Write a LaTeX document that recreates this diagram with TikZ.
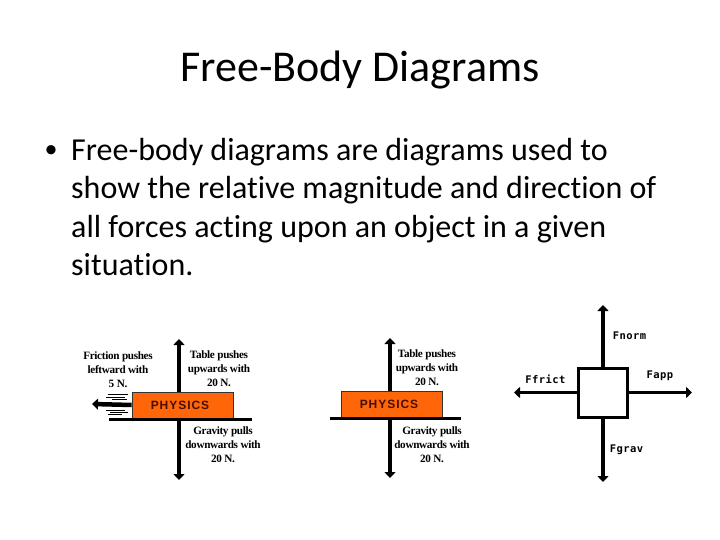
\documentclass[tikz,border=0pt]{standalone}
\usepackage{fontspec}
\usetikzlibrary{arrows.meta}
\setmainfont[RawFeature={-liga}]{Carlito}
\newfontfamily\labelfont[LetterSpace=-3]{Liberation Serif}
\newfontfamily\physfont[LetterSpace=8]{Liberation Sans}
\newfontfamily\forcefont[LetterSpace=4]{DejaVu Sans Mono}
\definecolor{bookfill}{RGB}{255,102,10}
\definecolor{booktext}{RGB}{70,15,0}

\begin{document}
\begin{tikzpicture}[x=1pt, y=-1pt]
    \tikzstyle{title} = [inner sep=0pt, font=\fontsize{44}{48}\selectfont]
    \tikzstyle{body} = [inner sep=0pt, align=left, anchor=north west, font=\fontsize{32}{38.5}\selectfont]
    \tikzstyle{note} = [inner sep=0pt, align=center, font=\labelfont\bfseries\fontsize{11.2}{14}\selectfont]
    \tikzstyle{force} = [inner sep=0pt, font=\forcefont\bfseries\fontsize{10.5}{12}\selectfont]
    \tikzstyle{book} = [draw=black!80, line width=0.7pt, fill=bookfill, minimum width=101pt, minimum height=26pt, inner sep=0pt, font=\physfont\bfseries\fontsize{12}{14}\selectfont, text=booktext]
    \tikzstyle{crate} = [draw=black, line width=3pt, fill=white, minimum size=49pt, inner sep=0pt]
    \tikzstyle{pull} = [line width=3.5pt, -{Triangle[length=6pt, width=11pt]}]
    \tikzstyle{floor} = [line width=3pt]
    \useasboundingbox [fill=white] (0,0) rectangle (720,540);

    \node (head) [title] at (360,70) {Free-Body Diagrams};
    \node (dot) [inner sep=0pt, font=\fontsize{26}{30}\selectfont] at (51,152) {•};
    \node (text) [body] at (71,138) {Free-body diagrams are diagrams used to\\show the relative magnitude and direction of\\all forces acting upon an object in a given\\situation.};

    % left picture
    \coordinate (u1) at (179,339);
    \coordinate (d1) at (179,480);
    \coordinate (l1) at (92,404);
    \coordinate (fa1) at (109,419);
    \coordinate (fb1) at (252,419);
    \draw [pull] (179,418) -- (u1);
    \draw [pull] (179,418) -- (d1);
    \node (b1) [book] at (182.5,405) {\hspace{-5pt}PHYSICS};
    \draw [floor] (fa1) -- (fb1);
    \draw [line width=4.5pt, -{Triangle[length=6pt, width=11pt]}] (b1.west) -- (l1);
    \foreach \ya/\xa/\xb in {394/108/128, 397/106/125, 399/112/127, 410/106/125, 412/110/128, 414/108/122}
        \draw [line width=0.7pt] (\xa,\ya) -- (\xb,\ya);
    \node (n1) [note] at (118,370) {Friction pushes\\leftward with\\5 N.};
    \node (n2) [note] at (219,369) {Table pushes\\upwards with\\20 N.};
    \node (n3) [note] at (223,445) {Gravity pulls\\downwards with\\20 N.};

    % middle picture
    \coordinate (u2) at (390,338);
    \coordinate (d2) at (390,478);
    \coordinate (fa2) at (330,418);
    \coordinate (fb2) at (461,418);
    \draw [pull] (390,417) -- (u2);
    \draw [pull] (390,417) -- (d2);
    \node (b2) [book] at (391.5,404) {\hspace{-5pt}PHYSICS};
    \draw [floor] (fa2) -- (fb2);
    \node (n4) [note] at (427,368) {Table pushes\\upwards with\\20 N.};
    \node (n5) [note] at (432,445) {Gravity pulls\\downwards with\\20 N.};

    % right picture
    \node (c1) [crate] at (603,392.5) {};
    \coordinate (u3) at (603,305);
    \coordinate (d3) at (603,482);
    \coordinate (l3) at (514,392.5);
    \coordinate (r3) at (692,392.5);
    \draw [pull] (c1.north) -- (u3);
    \draw [pull] (c1.south) -- (d3);
    \draw [pull] (c1.west) -- (l3);
    \draw [pull] (c1.east) -- (r3);
    \node (f1) [force] at (629.5,336) {Fnorm};
    \node (f2) [force] at (545.5,379) {Ffrict};
    \node (f3) [force] at (660,376) {Fapp};
    \node (f4) [force] at (626.5,450) {Fgrav};
\end{tikzpicture}
\end{document}
